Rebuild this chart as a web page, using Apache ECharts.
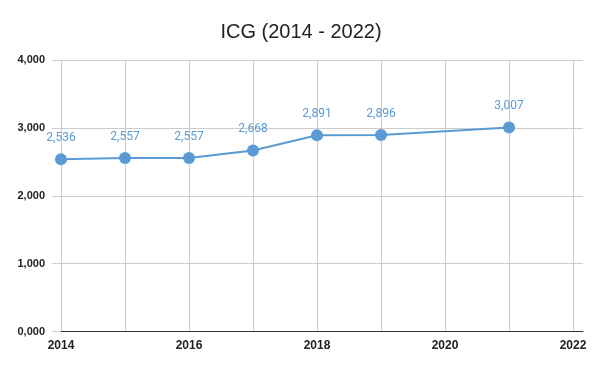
<!DOCTYPE html>
<html>
<head>
<meta charset="utf-8">
<script src="https://cdn.jsdelivr.net/npm/echarts@6/dist/echarts.min.js"></script>
<style>html,body{margin:0;padding:0;background:#fff}#c{width:602px;height:371px}</style>
</head>
<body>
<div id="c"></div>
<script>
var titleText = 'ICG (2014 - 2022)';
var years = [2014, 2015, 2016, 2017, 2018, 2019, 2021];
var values = [2.536, 2.557, 2.557, 2.668, 2.891, 2.896, 3.007];
var xGridYears = [2014, 2015, 2016, 2017, 2018, 2019, 2020, 2021, 2022];
var xLabelYears = [2014, 2016, 2018, 2020, 2022];
var yTicks = [0, 1, 2, 3, 4];

function fmt(v) { return v.toFixed(3).replace('.', ','); }

var chart = echarts.init(document.getElementById('c'));
chart.setOption({
  animation: false,
  title: {
    text: titleText, left: 'center', top: 17,
    textStyle: { fontFamily: 'Liberation Sans', fontSize: 20, fontWeight: 'normal', color: '#222' }
  },
  grid: { left: 61, right: 19, top: 60, bottom: 39.5, containLabel: false },
  xAxis: {
    type: 'value', min: 2014, max: 2022.156, interval: 1,
    axisLine: { show: true, lineStyle: { color: '#333', width: 1 } },
    axisTick: { show: false, customValues: xGridYears },
    axisLabel: {
      customValues: xLabelYears, margin: 8,
      fontFamily: 'Liberation Sans', fontSize: 12, fontWeight: 'bold', color: '#222',
      formatter: function (v) { return String(v); }
    },
    splitLine: { show: true, lineStyle: { color: '#cccccc', width: 1 } }
  },
  yAxis: {
    type: 'value', min: yTicks[0], max: yTicks[yTicks.length - 1], interval: 1,
    axisLine: { show: false },
    axisTick: { show: true, length: 9, lineStyle: { color: '#cccccc' } },
    axisLabel: {
      margin: 16, fontFamily: 'Liberation Sans', fontSize: 11, fontWeight: 'bold', color: '#222',
      formatter: function (v) { return fmt(v); }
    },
    splitLine: { show: true, lineStyle: { color: '#cccccc', width: 1 } }
  },
  series: [{
    type: 'line',
    data: years.map(function (y, i) { return [y, values[i]]; }),
    symbol: 'circle', symbolSize: 12,
    lineStyle: { color: '#5a9bd5', width: 2 },
    itemStyle: { color: '#5a9bd5' },
    label: {
      show: true, position: 'top', distance: 9,
      fontFamily: 'Roboto', fontSize: 12, color: '#5a9bd5',
      formatter: function (p) { return fmt(p.value[1]); }
    }
  }]
});
</script>
</body>
</html>
